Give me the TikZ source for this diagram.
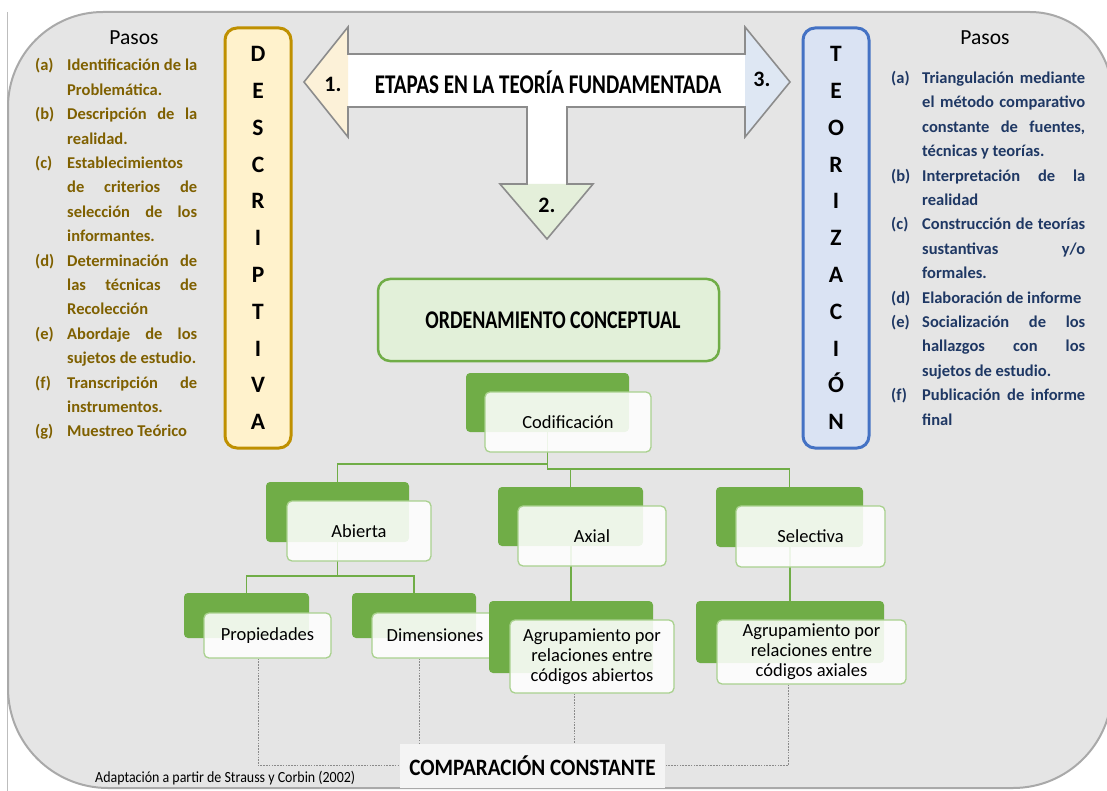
\documentclass[tikz,border=0pt]{standalone}
\usepackage{fontspec}
\setmainfont{Carlito}
\newfontfamily\condA{Carlito}[FakeStretch=0.78]
\newfontfamily\condB{Carlito}[FakeStretch=0.9]
\usetikzlibrary{calc}
\pgfdeclarelayer{panel}
\pgfdeclarelayer{links}
\pgfsetlayers{panel,links,main}

\definecolor{panelgray}{HTML}{E5E5E5}
\definecolor{paneledge}{HTML}{A9A9A9}
\definecolor{pageline}{HTML}{BDBDBD}
\definecolor{olive}{HTML}{7F6000}
\definecolor{navy}{HTML}{1F3864}
\definecolor{goldfill}{HTML}{FFF2CC}
\definecolor{golddraw}{HTML}{BF9000}
\definecolor{bluefill}{HTML}{DAE3F3}
\definecolor{bluedraw}{HTML}{4472C4}
\definecolor{leaf}{HTML}{70AD47}
\definecolor{leaflight}{HTML}{E2F0D9}
\definecolor{leafedge}{HTML}{A9D18E}
\definecolor{arrowedge}{HTML}{8C8C8C}
\definecolor{headyellow}{HTML}{FCF1D8}
\definecolor{headblue}{HTML}{DEE7F3}
\definecolor{headgreen}{HTML}{E4EFDA}
\definecolor{dotgray}{HTML}{8A8A8A}
\definecolor{cmpfill}{HTML}{F4F4F4}

% one line of a step list: label column + text column
\newlength\labw
\newlength\colw
\newcommand\srow[2]{\hbox{\hbox to\labw{#1\hfil}\hbox to\colw{#2}}}

\begin{document}
\begin{tikzpicture}[x=1pt,y=-1pt,
  conn/.style={draw=leaf, line width=1.2pt},
  dots/.style={draw=dotgray, line width=0.9pt, dash pattern=on 1.6pt off 1.2pt},
  backbox/.style={fill=leaf, rounded corners=4pt, inner sep=0pt},
  frontbox/.style={fill=white, fill opacity=0.88, text opacity=1, draw=leafedge,
    line width=1.3pt, rounded corners=5pt, inner sep=0pt, align=center,
    font=\fontsize{18.5}{20}\selectfont},
  stagebox/.style={rounded corners=12pt, line width=3pt, minimum width=66pt,
    minimum height=420pt, align=center, inner sep=0pt,
    font=\bfseries\fontsize{23.5}{36.8}\selectfont},
  steplist/.style={inner sep=0pt, anchor=base west,
    font=\bfseries\fontsize{16.5}{24.4}\selectfont},
  pasos/.style={font=\fontsize{21.5}{24}\selectfont, inner sep=0pt},
  num/.style={font=\bfseries\fontsize{22}{24}\selectfont, inner sep=0pt}
]
\useasboundingbox (0,0) rectangle (1107,791);

% ---------- grey panel ----------
\begin{pgfonlayer}{panel}
\draw[pageline, line width=0.8pt] (7,12) -- (7,791);
\filldraw[fill=panelgray, draw=paneledge, line width=2pt]
  (8,400) -- (8,107) .. controls (8,54.5) and (50.5,12) .. (103,12)
  -- (1030,12) .. controls (1075.3,12) and (1112,48.7) .. (1112,94)
  -- (1112,689) .. controls (1112,743.7) and (1067.7,788) .. (1013,788)
  -- (108,788) .. controls (52.8,788) and (8,743.2) .. (8,688) -- cycle;
\end{pgfonlayer}

% ---------- three-way arrow ----------
\coordinate (tipL) at (304,82);
\coordinate (tipR) at (790,82);
\coordinate (tipD) at (547,239);
\path[fill=white]
  (tipL) -- (348,27) -- (348,54) -- (745,54) -- (745,27) -- (tipR)
  -- (745,137) -- (745,107) -- (567,107) -- (567,184) -- (593,184)
  -- (tipD) -- (500,184) -- (527,184) -- (527,107) -- (348,107)
  -- (348,137) -- cycle;
\fill[headyellow] (tipL) -- (348,27) -- (348,137) -- cycle;
\fill[headblue] (tipR) -- (745,27) -- (745,137) -- cycle;
\fill[headgreen] (tipD) -- (500,184) -- (593,184) -- cycle;
\draw[arrowedge, line width=1.6pt, line join=miter]
  (tipL) -- (348,27) -- (348,54) -- (745,54) -- (745,27) -- (tipR)
  -- (745,137) -- (745,107) -- (567,107) -- (567,184) -- (593,184)
  -- (tipD) -- (500,184) -- (527,184) -- (527,107) -- (348,107)
  -- (348,137) -- cycle;
\node[num] (n1) at (333,84) {1.};
\node[num] (n3) at (762,79) {3.};
\node[num] (n2) at (547,205) {2.};
\node[inner sep=0pt, font=\condA\bfseries\fontsize{27}{30}\selectfont] (title) at (548,82)
  {ETAPAS EN LA TEORÍA FUNDAMENTADA};

% ---------- stage columns ----------
\node[stagebox, fill=goldfill, draw=golddraw] (desc) at (258,238)
  {D\\E\\S\\C\\R\\I\\P\\T\\I\\V\\A};
\node[stagebox, fill=bluefill, draw=bluedraw] (teor) at (836,238)
  {T\\E\\O\\R\\I\\Z\\A\\C\\I\\Ó\\N};

% ---------- step lists ----------
\node[pasos] (pasosL) at (134,38) {Pasos};
\node[pasos] (pasosR) at (985,38) {Pasos};

\node[steplist, text=olive] (stepsL) at (35,71) {%
  \setlength\labw{32pt}\setlength\colw{130pt}%
  \vtop{%
  \srow{(a)}{Identificación\hfill de\hfill la}
  \srow{}{Problemática.\hfill}
  \srow{(b)}{Descripción\hfill de\hfill la}
  \srow{}{realidad.\hfill}
  \srow{(c)}{Establecimientos\hfill}
  \srow{}{de\hfill criterios\hfill de}
  \srow{}{selección\hfill de\hfill los}
  \srow{}{informantes.\hfill}
  \srow{(d)}{Determinación\hfill de}
  \srow{}{las\hfill técnicas\hfill de}
  \srow{}{Recolección\hfill}
  \srow{(e)}{Abordaje\hfill de\hfill los}
  \srow{}{sujetos de estudio.\hfill}
  \srow{(f)}{Transcripción\hfill de}
  \srow{}{instrumentos.\hfill}
  \srow{(g)}{Muestreo Teórico\hfill}}};

\node[steplist, text=navy] (stepsR) at (891,83.5) {%
  \setlength\labw{31pt}\setlength\colw{163pt}%
  \vtop{%
  \srow{(a)}{Triangulación\hfill mediante}
  \srow{}{el\hfill método\hfill comparativo}
  \srow{}{constante\hfill de\hfill fuentes,}
  \srow{}{técnicas y teorías.\hfill}
  \srow{(b)}{Interpretación\hfill de\hfill la}
  \srow{}{realidad\hfill}
  \srow{(c)}{Construcción\hfill de\hfill teorías}
  \srow{}{sustantivas\hfill y/o}
  \srow{}{formales.\hfill}
  \srow{(d)}{Elaboración de informe\hfill}
  \srow{(e)}{Socialización\hfill de\hfill los}
  \srow{}{hallazgos\hfill con\hfill los}
  \srow{}{sujetos de estudio.\hfill}
  \srow{(f)}{Publicación\hfill de\hfill informe}
  \srow{}{final\hfill}}};

% ---------- conceptual ordering ----------
\node[draw=leaf, fill=leaflight, line width=2.5pt, rounded corners=12pt,
  minimum width=341pt, minimum height=82pt, inner sep=0pt,
  font=\condA\bfseries\fontsize{25.5}{28}\selectfont] (ord) at (548.5,320)
  {\hspace*{9pt}ORDENAMIENTO CONCEPTUAL};

% coding tree: shadow plates and cards, drawn level by level
\node[backbox, minimum width=163pt, minimum height=59pt] (codB) at (547.5,402.5) {};
\node[frontbox, minimum width=166pt, minimum height=60pt] (cod) at (568,422) {Codificación};

\node[backbox, minimum width=143pt, minimum height=60pt] (abB) at (337.5,512) {};
\node[frontbox, minimum width=144pt, minimum height=60pt] (ab) at (359,531) {Abierta};
\node[backbox, minimum width=145pt, minimum height=59pt] (axB) at (570.5,516.5) {};
\node[frontbox, minimum width=148pt, minimum height=60pt] (ax) at (592,536) {Axial};
\node[backbox, minimum width=147pt, minimum height=60pt] (selB) at (789.5,517) {};
\node[frontbox, minimum width=149pt, minimum height=61pt] (sel) at (810.5,536.5) {Selectiva};

\node[backbox, minimum width=125pt, minimum height=45pt] (propB) at (246.5,615.5) {};
\node[frontbox, minimum width=127pt, minimum height=45pt] (propF) at (267.5,635.5) {Propiedades};
\node[backbox, minimum width=124pt, minimum height=45pt] (dimB) at (414,615.5) {};
\node[frontbox, minimum width=126pt, minimum height=45pt] (dimF) at (435,635.5) {Dimensiones};
\node[backbox, minimum width=164pt, minimum height=72pt] (abtB) at (571,637) {};
\node[frontbox, minimum width=164pt, minimum height=73pt] (abtF) at (592,656.5)
  {Agrupamiento por\\relaciones entre\\códigos abiertos};
\node[backbox, minimum width=188pt, minimum height=62pt] (axsB) at (790,632) {};
\node[frontbox, minimum width=189pt, minimum height=64pt] (axsF) at (811.5,652)
  {Agrupamiento por\\relaciones entre\\códigos axiales};

% tree connectors
\coordinate (busL) at (0,464);
\coordinate (busR) at (0,469);
\coordinate (busA) at (0,576);
\begin{pgfonlayer}{links}
\draw[conn] (codB.south) -- (codB.south |- busL) -| (abB.north);
\draw[conn] (codB.south |- busL) -- (codB.south |- busR) -| (selB.north);
\draw[conn] (axB.north) -- (axB.north |- busR);
\draw[conn] (abB.south) -- (abB.south |- busA) -| (propB.north);
\draw[conn] (abB.south |- busA) -| (dimB.north);
\draw[conn] (abtB.north) -- (abtB.north |- axB.south);
\draw[conn] (axsB.north) -- (axsB.north |- selB.south);
\end{pgfonlayer}

% ---------- constant comparison ----------
\node[fill=cmpfill, minimum width=265pt, minimum height=44pt, inner sep=0pt,
  font=\condB\bfseries\fontsize{23.5}{26}\selectfont] (cmp) at (532.5,765.5)
  {COMPARACIÓN CONSTANTE};
\coordinate (propDrop) at ([xshift=-9.5pt]propF.south);
\coordinate (dimDrop) at ([xshift=-16pt]dimF.south);
\coordinate (abtDrop) at ([xshift=-18pt]abtF.south);
\coordinate (axsDrop) at ([xshift=-23.5pt]axsF.south);
\begin{pgfonlayer}{links}
\draw[dots] (propDrop) |- (cmp.west);
\draw[dots] (dimDrop) -- (dimDrop |- cmp.north);
\draw[dots] (abtDrop) -- (abtDrop |- cmp.north);
\draw[dots] (axsDrop) |- (cmp.east);
\end{pgfonlayer}

\node[inner sep=0pt, anchor=base west, font=\condB\fontsize{15.5}{18}\selectfont] (src)
  at (95,782) {Adaptación a partir de Strauss y Corbin (2002)};
\end{tikzpicture}
\end{document}
